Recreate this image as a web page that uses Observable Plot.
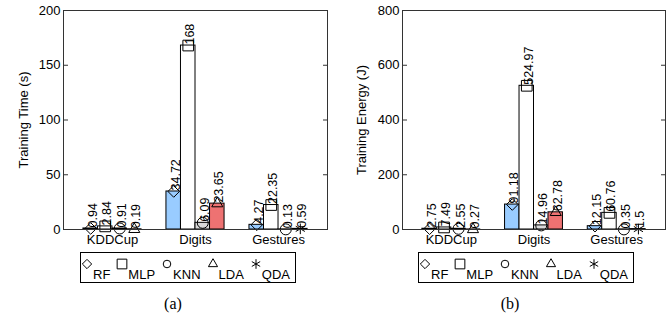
<!DOCTYPE html>
<html><head><meta charset="utf-8">
<script src="https://cdn.jsdelivr.net/npm/d3@7"></script>
<script src="https://cdn.jsdelivr.net/npm/@observablehq/plot@0.6"></script>
<style>
body{margin:0;background:#fff;}
#root{position:relative;width:671px;height:324px;overflow:hidden;font-family:"Liberation Sans",Arial,sans-serif;background:#fff;}
.panel{position:absolute;top:0;}
.legend{position:absolute;top:252px;height:31px;width:216px;box-sizing:border-box;border:1px solid #000;display:flex;align-items:flex-start;padding-left:1px;}
.legend .item{display:flex;align-items:flex-start;margin-right:7px;}
.legend svg{margin-top:6px;overflow:visible;}
.legend .lab{font-size:13px;line-height:13px;margin-top:15px;margin-left:1px;color:#000;}
.cap{position:absolute;top:295px;font-family:"Liberation Serif","Times New Roman","DejaVu Serif",serif;font-size:16px;transform:translateX(-50%);}
</style>
</head><body><div id="root"></div>
<script>
const datasets = ["KDDCup", "Digits", "Gestures"];
const methods = ["RF", "MLP", "KNN", "LDA", "QDA"];
const methodFills = ["#99ccff", "#ffffff", "#d9d9d9", "#ee7272", "#808080"];
const methodSymbols = ["diamond2", "square2", "circle", "triangle2", "asterisk"];
const methodMarkerR = [5.2, 6.8, 5.5, 5.3, 5];
const legendSymbols = [d3.symbolDiamond2, d3.symbolSquare2, d3.symbolCircle, d3.symbolTriangle2, d3.symbolAsterisk];
const legendSizes = [55, 120, 45, 60, 65];

// Training time (s), order RF, MLP, KNN, LDA, QDA (null = not shown)
const timeKDDCup   = [0.94, 2.84, 0.91, 0.19, null];
const timeDigits   = [34.72, 168, 6.09, 23.65, null];
const timeGestures = [4.27, 22.35, 0.13, null, 0.59];
// Training energy (J)
const energyKDDCup   = [2.75, 7.49, 2.55, 0.27, null];
const energyDigits   = [91.18, 524.97, 14.96, 62.78, null];
const energyGestures = [12.15, 60.76, 0.35, null, 1.5];

const timeTicks = [0, 50, 100, 150, 200];
const energyTicks = [0, 200, 400, 600, 800];

const BAR = 0.175; // bar width in group units

function buildRows(seriesByDataset) {
  const out = [];
  seriesByDataset.forEach((vals, g) => {
    const present = methods.map((m, i) => ({m, v: vals[i]})).filter(d => d.v != null);
    present.forEach((d, slot) => {
      const off = (slot - present.length / 2) * BAR;
      out.push({dataset: datasets[g], method: d.m, value: d.v,
        x1: g + off, x2: g + off + BAR, xc: g + off + BAR / 2});
    });
  });
  return out;
}

function panel({data, yLabel, ticks, width, marginLeft, marginRight, labelOffset}) {
  return Plot.plot({
    width, height: 250, marginLeft, marginRight, marginTop: 10, marginBottom: 21,
    style: {fontFamily: "'Liberation Sans', Arial, sans-serif", fontSize: "13px", color: "#000", background: "#fff", overflow: "visible"},
    x: {domain: [-0.59, 2.59]},
    y: {domain: [ticks[0], ticks[ticks.length - 1]]},
    color: {domain: methods, range: methodFills},
    marks: [
      Plot.rect(data, {x1: "x1", x2: "x2", y1: 0, y2: "value", fill: "method", stroke: "#000", strokeWidth: 1}),
      ...methods.map((m, i) => Plot.dot(data.filter(d => d.method === m),
        {x: "xc", y: "value", symbol: methodSymbols[i], r: methodMarkerR[i], stroke: "#000", fill: "none", strokeWidth: 1})),
      Plot.text(data, {x: "xc", y: "value", text: d => String(d.value), rotate: -90, textAnchor: "start", dx: 2, dy: -1, fontSize: 12.5, fill: "#000"}),
      Plot.axisX({ticks: [0, 1, 2], tickFormat: i => datasets[i], tickSize: 0, tickPadding: 5, label: null}),
      Plot.axisY({ticks, tickSize: 0, tickPadding: 3, label: yLabel, labelAnchor: "center", labelArrow: "none", labelOffset}),
      Plot.axisY({ticks, tickSize: -5, text: null, label: null, stroke: "#333"}),
      Plot.axisY({anchor: "right", ticks, tickSize: -5, text: null, label: null, stroke: "#333"}),
      Plot.frame({stroke: "#333"})
    ]
  });
}

const root = document.getElementById("root");

function place(el, left, width) {
  const d = document.createElement("div");
  d.className = "panel"; d.style.left = left + "px"; d.style.width = width + "px";
  d.appendChild(el); root.appendChild(d);
}

place(panel({data: buildRows([timeKDDCup, timeDigits, timeGestures]), yLabel: "Training Time (s)",
  ticks: timeTicks, width: 335, marginLeft: 63, marginRight: 8, labelOffset: 45}), 0, 335);
place(panel({data: buildRows([energyKDDCup, energyDigits, energyGestures]), yLabel: "Training Energy (J)",
  ticks: energyTicks, width: 336, marginLeft: 67, marginRight: 6, labelOffset: 46}), 335, 336);

function legend(left) {
  const box = document.createElement("div");
  box.className = "legend"; box.style.left = left + "px";
  methods.forEach((m, i) => {
    const item = document.createElement("div"); item.className = "item";
    const svg = d3.create("svg").attr("width", 10).attr("height", 10);
    svg.append("path").attr("transform", "translate(5,5)")
      .attr("d", d3.symbol(legendSymbols[i], legendSizes[i])()).attr("fill", "none").attr("stroke", "#000").attr("stroke-width", 1);
    item.appendChild(svg.node());
    const lab = document.createElement("span"); lab.className = "lab"; lab.textContent = m;
    item.appendChild(lab);
    box.appendChild(item);
  });
  root.appendChild(box);
}
legend(80);
legend(418);

function caption(text, x) {
  const c = document.createElement("div"); c.className = "cap"; c.style.left = x + "px"; c.textContent = text;
  root.appendChild(c);
}
caption("(a)", 173);
caption("(b)", 510);
</script>
</body></html>
